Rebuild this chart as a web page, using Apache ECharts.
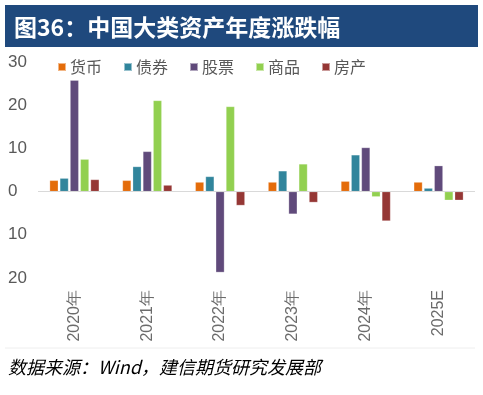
<!DOCTYPE html>
<html><head><meta charset="utf-8">
<script src="https://cdn.jsdelivr.net/npm/echarts@6/dist/echarts.min.js"></script>
<style>html,body{margin:0;padding:0;background:#fff}#c{width:483px;height:395px}</style>
</head><body><div id="c"></div>
<script>
var categories = ['2020年','2021年','2022年','2023年','2024年','2025E'];
var seriesNames = ['货币','债券','股票','商品','房产'];
var money  = [2.6, 2.6, 2.2, 2.2, 2.4, 2.2];
var bond   = [3.1, 5.8, 3.5, 4.8, 8.5, 0.8];
var stock  = [25.8, 9.3, -18.7, -5.2, 10.2, 6.0];
var commod = [7.5, 21.1, 19.7, 6.4, -1.2, -2.0];
var house  = [2.8, 1.5, -3.2, -2.5, -6.8, -2.0];
var yTicks = {min: -20, max: 30, interval: 10};
var colors = ['#E46C0A','#31859C','#604A7B','#92D050','#953735'];
var dataAll = [money, bond, stock, commod, house];

var chart = echarts.init(document.getElementById('c'));
var series = seriesNames.map(function(n, i){
  var s = {
    name: n, type: 'bar', data: dataAll[i], barWidth: 8.6, barGap: '19%',
    itemStyle: {color: colors[i], borderColor: 'rgba(255,255,255,0.5)', borderWidth: 0.5},
    silent: true
  };
  if (i === 0) {
    s.markLine = {silent: true, symbol: 'none', label: {show: false},
      lineStyle: {color: '#D9D9D9', type: 'solid', width: 1},
      data: [{yAxis: 0}]};
  }
  return s;
});
chart.setOption({
  animation: false,
  color: colors,
  title: {text: '图36：中国大类资产年度涨跌幅', left: 9, top: 11,
    textStyle: {color: '#fff', fontSize: 23, fontWeight: 'bold', fontFamily: 'Noto Sans CJK SC'}},
  graphic: [
    {type: 'rect', z: -1, shape: {x: 5, y: 5, width: 473, height: 42}, style: {fill: '#1F497D'}},
    {type: 'line', shape: {x1: 5, y1: 348, x2: 475, y2: 348}, style: {stroke: '#EEEEEE', lineWidth: 1}},
    {type: 'text', left: 8, top: 358, style: {text: '数据来源：Wind，建信期货研究发展部', fill: '#000',
      font: 'italic 18px "Noto Sans CJK SC"'}}
  ],
  legend: {left: 52, top: 54, itemWidth: 8, itemHeight: 8, itemGap: 21, icon: 'rect',
    textStyle: {color: '#595959', fontSize: 16, fontFamily: 'Noto Sans CJK SC', padding: [0,0,0,-1]},
    data: seriesNames},
  grid: {left: 38, right: 8, top: 62, bottom: 117},
  xAxis: {type: 'category', data: categories,
    axisLine: {show: false, onZero: false}, axisTick: {show: false},
    axisLabel: {rotate: 90, margin: 12, color: '#6b6b6b', fontSize: 16, fontFamily: 'Liberation Sans'}},
  yAxis: {type: 'value', min: yTicks.min, max: yTicks.max, interval: yTicks.interval,
    splitLine: {show: false}, axisLine: {show: false}, axisTick: {show: false},
    axisLabel: {align: 'left', margin: 30, color: '#595959', fontSize: 17, fontFamily: 'Liberation Sans',
      formatter: function(v){ return String(Math.abs(v)); }}},
  series: series
});
</script></body></html>
